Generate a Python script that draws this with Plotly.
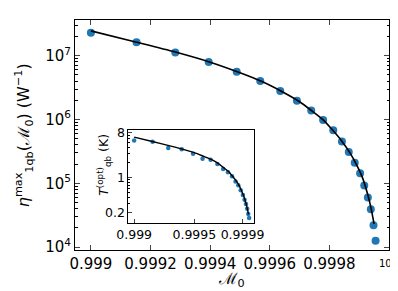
import math
import plotly.graph_objects as go

# ---- data ----
m0_points = [0.999, 0.999153, 0.999283, 0.999395, 0.999489, 0.999568, 0.999635,
             0.999691, 0.999739, 0.999779, 0.999813, 0.999842, 0.999865, 0.999885,
             0.999903, 0.999917, 0.999929, 0.999939, 0.999948, 0.999955]
eta_points = [2.29e7, 1.62e7, 1.12e7, 8.0e6, 5.6e6, 4.0e6, 2.8e6, 1.97e6, 1.38e6,
              9.8e5, 6.8e5, 4.5e5, 3.1e5, 2.1e5, 1.44e5, 9.2e4, 6.0e4, 3.9e4,
              2.2e4, 1.26e4]

m0_line = [0.999, 0.99915, 0.99928, 0.9994, 0.9995, 0.99957, 0.99964, 0.9997,
           0.99974, 0.99978, 0.99981, 0.99984, 0.99987, 0.99989, 0.99991,
           0.99993, 0.99994, 0.99995]
eta_line = [2.45e7, 1.64e7, 1.15e7, 7.9e6, 5.4e6, 4.0e6, 2.75e6, 1.9e6, 1.38e6,
            9.8e5, 6.9e5, 4.7e5, 2.95e5, 2.0e5, 1.26e5, 6.3e4, 4.0e4, 2.3e4]

t_points = [5.52, 5.2, 3.9, 3.69, 2.99, 2.39, 2.26, 1.86, 1.49, 1.28, 1.07, 0.84,
            0.71, 0.56, 0.45, 0.365, 0.30, 0.24, 0.19, 0.157]
t_line = [6.4, 5.25, 4.4, 3.7, 3.15, 2.7, 2.3, 1.9, 1.6, 1.35, 1.12, 0.91, 0.71,
          0.56, 0.43, 0.30, 0.24, 0.186]

main_x_ticks = [0.999, 0.9992, 0.9994, 0.9996, 0.9998, 1.0]
main_x_labels = ["0.999", "0.9992", "0.9994", "0.9996", "0.9998", ""]
main_x_end_label = "10<sup>0</sup>"
main_y_ticks = [1e4, 1e5, 1e6, 1e7]
main_y_labels = ["10<sup>4</sup>", "10<sup>5</sup>", "10<sup>6</sup>", "10<sup>7</sup>"]
inset_x_ticks = [0.999, 0.9995, 0.9999]
inset_x_labels = ["0.999", "0.9995", "0.9999"]
inset_y_ticks = [0.2, 1, 8]
inset_y_labels = ["0.2", "1", "8"]

BLUE = "#1f77b4"
FONT = "DejaVu Sans"
SCRIPT_M = "<span style='font-family:Noto Sans'>ℳ</span>"

fig = go.Figure()
fig.add_trace(go.Scatter(x=m0_points, y=eta_points, mode="markers",
                         marker=dict(color=BLUE, size=8), xaxis="x", yaxis="y",
                         showlegend=False))
fig.add_trace(go.Scatter(x=m0_line, y=eta_line, mode="lines",
                         line=dict(color="black", width=1.6, shape="spline", smoothing=0.6),
                         xaxis="x", yaxis="y", showlegend=False))
fig.add_trace(go.Scatter(x=m0_points, y=t_points, mode="markers",
                         marker=dict(color=BLUE, size=4.5), xaxis="x2", yaxis="y2",
                         showlegend=False))
fig.add_trace(go.Scatter(x=m0_line, y=t_line, mode="lines",
                         line=dict(color="black", width=1.4, shape="spline", smoothing=0.6),
                         xaxis="x2", yaxis="y2", showlegend=False))

main_minor_y = [k * 10 ** e for e in range(3, 8) for k in range(2, 10)]
inset_minor_y = [0.2, 0.3, 0.4, 0.5, 0.6, 0.7, 0.8, 0.9, 2, 3, 4, 5, 6, 7, 8]

fig.update_layout(
    width=398, height=291,
    margin=dict(l=67, r=15, t=7, b=49),
    paper_bgcolor="white", plot_bgcolor="white",
    font=dict(family=FONT, size=15, color="black"),
    xaxis=dict(type="log", range=[math.log10(0.9989467), math.log10(1.0)],
               tickmode="array", tickvals=main_x_ticks, ticktext=main_x_labels,
               ticks="inside", ticklen=5, tickwidth=1, showline=True, linecolor="black",
               linewidth=1, mirror="ticks", showgrid=False, zeroline=False,
               tickfont=dict(family=FONT, size=15)),
    yaxis=dict(type="log", range=[3.954, 7.56],
               tickmode="array", tickvals=main_y_ticks, ticktext=main_y_labels,
               ticks="inside", ticklen=5, tickwidth=1, showline=True, linecolor="black",
               linewidth=1, mirror="ticks", showgrid=False, zeroline=False,
               minor=dict(ticks="inside", ticklen=2.5, tickvals=main_minor_y,
                          showgrid=False, tickcolor="black"),
               tickfont=dict(family=FONT, size=15)),
    xaxis2=dict(type="log", range=[math.log10(0.998952), math.log10(0.999998)],
                domain=[0.170, 0.571], anchor="y2",
                tickmode="array", tickvals=inset_x_ticks, ticktext=inset_x_labels,
                ticks="inside", ticklen=4, showline=True, linecolor="black",
                linewidth=1, mirror=True, showgrid=False, zeroline=False,
                tickfont=dict(family=FONT, size=12.5)),
    yaxis2=dict(type="log", range=[-0.90, 0.95], domain=[0.118, 0.522], anchor="x2",
                tickmode="array", tickvals=inset_y_ticks, ticktext=inset_y_labels,
                ticks="inside", ticklen=4, showline=True, linecolor="black",
                linewidth=1, mirror=True, showgrid=False, zeroline=False,
                minor=dict(ticks="inside", ticklen=2, tickvals=inset_minor_y,
                           showgrid=False, tickcolor="black"),
                tickfont=dict(family=FONT, size=12.5)),
    annotations=[
        dict(text="<i>η</i><sup>max</sup><sub>1qb</sub>(" + SCRIPT_M +
                  "<sub>0</sub>) (W<sup>−1</sup>)",
             xref="paper", yref="paper", x=-0.165, y=0.5, textangle=-90,
             showarrow=False, font=dict(family=FONT, size=16),
             xanchor="center", yanchor="middle"),
        dict(text=SCRIPT_M + "<sub>0</sub>", xref="paper", yref="paper", x=0.5, y=-0.125,
             showarrow=False, font=dict(family=FONT, size=16),
             xanchor="center", yanchor="middle"),
        dict(text="<i>T</i><sup>(opt)</sup><sub>qb</sub> (K)", xref="paper", yref="paper",
             x=0.092, y=0.37, textangle=-90, showarrow=False,
             font=dict(family=FONT, size=12.5), xanchor="center", yanchor="middle"),
        dict(text=main_x_end_label, xref="paper", yref="paper", x=0.9937, y=-0.02,
             showarrow=False, font=dict(family=FONT, size=10),
             xanchor="center", yanchor="top"),
    ],
)

fig.write_html("out.html")
